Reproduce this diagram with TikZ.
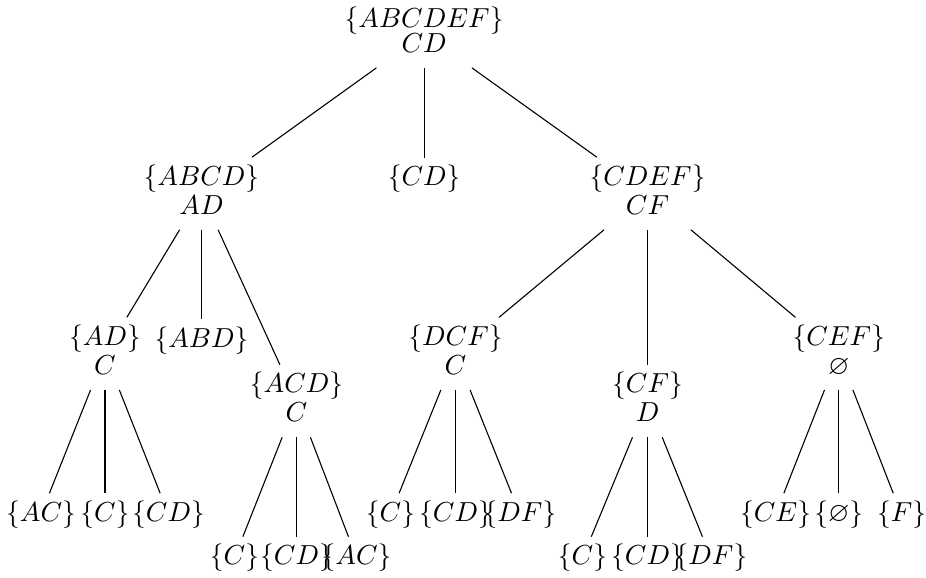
\documentclass[tikz,border=0pt]{standalone}
\usepackage{amssymb}
\newcommand{\lowdepth}{\vrule width 0pt height 0pt depth 3pt}
\begin{document}
\begin{tikzpicture}[every node/.style={align=center, inner sep=2.5pt, font=\fontsize{10pt}{10.5pt}\selectfont}]
		\useasboundingbox (0, 0) rectangle (11.835, -7.387);
		\node (r) at (5.42, -0.43) {$\{ABCDEF\}$\\[-1.5pt]$CD$\lowdepth};
		\node (abcd) at (2.575, -2.473) {$\{ABCD\}$\\$AD$\lowdepth};
		\node (cd) at (5.42, -2.289) {$\{CD\}$};
		\node (cdef) at (8.276, -2.473) {$\{CDEF\}$\\$CF$\lowdepth};
		\node (ad) at (1.342, -4.52) {$\{AD\}$\\$C$\lowdepth};
		\node (abd) at (2.575, -4.35) {$\{ABD\}$};
		\node (acd) at (3.79, -5.125) {$\{ACD\}$\\$C$\lowdepth};
		\node (dcf) at (5.822, -4.52) {$\{DCF\}$\\$C$\lowdepth};
		\node (cf) at (8.276, -5.125) {$\{CF\}$\\$D$\lowdepth};
		\node (cef) at (10.72, -4.52) {$\{CEF\}$\\$\varnothing$\lowdepth};
		\node (ad1) at (0.524, -6.575) {$\{AC\}$};
		\node (ad2) at (1.342, -6.575) {$\{C\}$};
		\node (ad3) at (2.154, -6.575) {$\{CD\}$};
		\node (acd1) at (2.997, -7.13) {$\{C\}$};
		\node (acd2) at (3.79, -7.13) {$\{CD\}$};
		\node (acd3) at (4.557, -7.13) {$\{AC\}$};
		\node (dcf1) at (4.991, -6.575) {$\{C\}$};
		\node (dcf2) at (5.822, -6.575) {$\{CD\}$};
		\node (dcf3) at (6.646, -6.575) {$\{DF\}$};
		\node (cf1) at (7.445, -7.13) {$\{C\}$};
		\node (cf2) at (8.276, -7.13) {$\{CD\}$};
		\node (cf3) at (9.087, -7.13) {$\{DF\}$};
		\node (cef1) at (9.912, -6.575) {$\{CE\}$};
		\node (cef2) at (10.72, -6.575) {$\{\varnothing\}$};
		\node (cef3) at (11.522, -6.575) {$\{F\}$};
		\draw (r) -- (abcd);
		\draw (r) -- (cd);
		\draw (r) -- (cdef);
		\draw (abcd) -- (ad);
		\draw (abcd) -- (abd);
		\draw (abcd) -- (acd);
		\draw (cdef) -- (dcf);
		\draw (cdef) -- (cf);
		\draw (cdef) -- (cef);
		\draw (ad) -- (ad1);
		\draw (ad) -- (ad2);
		\draw (ad) -- (ad3);
		\draw (acd) -- (acd1);
		\draw (acd) -- (acd2);
		\draw (acd) -- (acd3);
		\draw (dcf) -- (dcf1);
		\draw (dcf) -- (dcf2);
		\draw (dcf) -- (dcf3);
		\draw (cf) -- (cf1);
		\draw (cf) -- (cf2);
		\draw (cf) -- (cf3);
		\draw (cef) -- (cef1);
		\draw (cef) -- (cef2);
		\draw (cef) -- (cef3);
	\end{tikzpicture}
\end{document}
